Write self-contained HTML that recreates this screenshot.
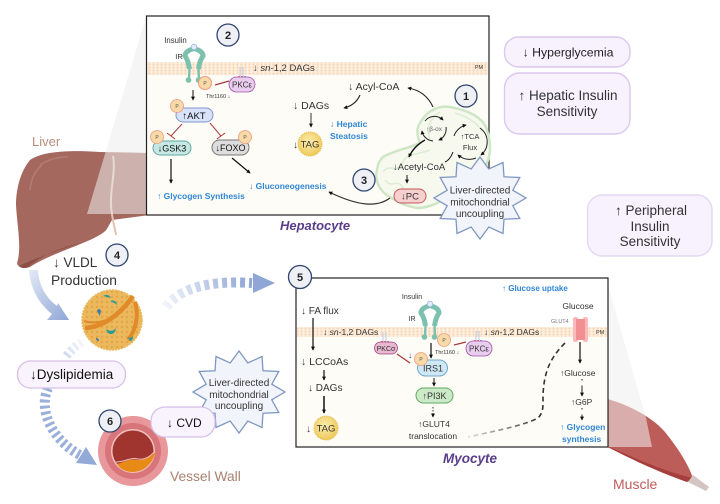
<!DOCTYPE html>
<html><head><meta charset="utf-8"><style>
html,body{margin:0;padding:0;background:#fff}
svg{display:block}
text{font-family:"Liberation Sans",sans-serif;fill:#333}
.b{fill:#2f86d6;font-weight:bold;font-size:8.5px}
.n{font-size:11px;fill:#222;text-anchor:middle;font-weight:bold}
.p{font-size:5px;fill:#555;text-anchor:middle}
</style></head><body>
<svg width="720" height="504" viewBox="0 0 720 504" xmlns="http://www.w3.org/2000/svg">
<defs>
<marker id="a" viewBox="0 0 6 6" refX="5" refY="3" markerWidth="4" markerHeight="4" orient="auto-start-reverse" markerUnits="userSpaceOnUse"><path d="M0 0L6 3L0 6Z" fill="#111"/></marker>
<linearGradient id="fadeB" x1="0" y1="0" x2="1" y2="1"><stop offset="0" stop-color="#e3e9f6"/><stop offset="1" stop-color="#8fa6d6"/></linearGradient>
<linearGradient id="fadeR" gradientUnits="userSpaceOnUse" x1="165" y1="307" x2="250" y2="283"><stop offset="0" stop-color="#f3f5fb"/><stop offset="1" stop-color="#8fa6d6"/></linearGradient>
<linearGradient id="fadeD" gradientUnits="userSpaceOnUse" x1="82" y1="342" x2="62" y2="360"><stop offset="0" stop-color="#f6f7fc"/><stop offset="1" stop-color="#c6d3ea"/></linearGradient>
<linearGradient id="fadeK" gradientUnits="userSpaceOnUse" x1="468" y1="437" x2="540" y2="415"><stop offset="0" stop-color="#ddd"/><stop offset="1" stop-color="#333"/></linearGradient>
<radialGradient id="tag" cx=".45" cy=".4" r=".65"><stop offset="0" stop-color="#fbeeb0"/><stop offset="1" stop-color="#eec652"/></radialGradient>
<pattern id="mem" width="4" height="3" patternUnits="userSpaceOnUse"><rect width="4" height="3" fill="#fdf0e2"/><circle cx="1.5" cy="1.5" r="1.1" fill="#f8d3ae"/></pattern>
<pattern id="dots" width="5" height="5" patternUnits="userSpaceOnUse"><rect width="5" height="5" fill="#ecb85c"/><circle cx="2" cy="2" r="1.2" fill="#e2a648"/></pattern>
<polygon id="star" points="46,0 32.8,7.8 39.8,20.5 24,21.2 23,35.5 8.8,29 0,41 -8.8,29 -23,35.5 -24,21.2 -39.8,20.5 -32.8,7.8 -46,0 -32.8,-7.8 -39.8,-20.5 -24,-21.2 -23,-35.5 -8.8,-29 0,-41 8.8,-29 23,-35.5 24,-21.2 39.8,-20.5 32.8,-7.8" fill="#f1f5fb" stroke="#7f97c0" stroke-width="1.3"/>
<g id="rec" fill="none" stroke="#7cc0ae">
<path d="M0 1.500Q-9 4 -9 9Q-5.500 14 -4.500 22" stroke-width="5"/><path d="M0 1.500Q9 4 9 9Q5.500 14 4.500 22" stroke-width="5"/>
<path d="M-4.500 22L-5 32M4.500 22L5 32" stroke-width="2.400"/>
<circle cx="-5.500" cy="33" r="2.800" fill="#7cc0ae" stroke="none"/><circle cx="4.500" cy="33" r="2.800" fill="#7cc0ae" stroke="none"/>
<circle cx="0" cy="0" r="2.800" fill="#e4ecfa" stroke="#9bb4dc" stroke-width=".8"/>
</g>
<g id="prong" fill="none" stroke="#b9cbe6" stroke-width="1"><path d="M-2 -9V0M1 -9V0"/><circle cx="-3" cy="1" r="1" fill="#d33" stroke="none"/><circle cx="0" cy="1" r="1" fill="#d33" stroke="none"/><circle cx="3" cy="1" r="1" fill="#28c" stroke="none"/></g>
</defs>

<!-- liver -->
<path d="M150 153L100 152C70 150 43 151 30 160C20 172 16 190 16 205C17 225 22 248 17 263C18 268 24 269 30 267C45 257 67 250 90 240C100 235 106 232 108 227L112 220L150 215Z" fill="#a5685f"/>
<path d="M19 266C35 258 55 252 80 243C60 248 42 255 28 267C24 269 21 268 19 266Z" fill="#8c4f48"/>
<path d="M40 165C50 158 60 157 68 157M30 190C31 178 36 170 42 165" fill="none" stroke="#b27d75" stroke-width="1.500"/>
<path d="M113 156C116 170 110 190 111 205C112 220 115 228 116 235" fill="none" stroke="#e2c3b0" stroke-width="2"/>
<!-- wedge liver -->
<polygon points="146,17 87,214 150,214" fill="#ececec" fill-opacity=".55"/>
<!-- muscle -->
<path d="M600 397C625 403 650 415 665 432C678 448 688 464 693 478L687 482C665 474 640 464 600 443Z" fill="#bd5d5a"/>
<path d="M600 443C640 460 665 472 693 478L687 482C665 474 640 464 600 443Z" fill="#a53f3e"/>
<path d="M693 475L709 487L706 491L688 482Z" fill="#d4c4c2"/>
<polygon points="608,285 646,418 652,447 605,447" fill="#efefef" fill-opacity=".55"/>

<text x="32" y="146" font-size="13" style="fill:#b98d7c">Liver</text>

<!-- hepatocyte box -->
<rect x="146.500" y="16" width="342.500" height="199" fill="#fff"/>
<rect x="147" y="62" width="342" height="153" fill="#fefcf6"/>
<rect x="147" y="62" width="341" height="13" fill="url(#mem)"/>
<rect x="146.500" y="16" width="342.500" height="199" fill="none" stroke="#222" stroke-width="1.200"/>
<text x="479" y="69" font-size="5.500" text-anchor="middle">PM</text>
<circle cx="228" cy="35" r="11" fill="#eef0f5" stroke="#2f4570" stroke-width="1.300"/><text x="228" y="39" class="n">2</text>
<text x="175.500" y="43" font-size="7.800" text-anchor="middle">Insulin</text>
<text x="179" y="59" font-size="7.500" text-anchor="middle">IR</text>
<use href="#rec" x="194" y="47"/>
<text x="253" y="71" font-size="9.500">↓ <tspan font-style="italic">sn</tspan>-1,2 DAGs</text>
<use href="#prong" x="242" y="76"/>
<rect x="229" y="77" width="26" height="15" rx="7.500" fill="#e9cdee" stroke="#a050a8" stroke-width=".8"/><text x="242" y="87.500" font-size="8" text-anchor="middle">PKCε</text>
<path d="M229 81L215 85" stroke="#a83a3f" stroke-width="1.200"/>
<circle cx="205" cy="83" r="6.500" fill="#f8d9a8" stroke="#ef9a80"/><text x="205" y="85" class="p">P</text>
<text x="206" y="98" font-size="5.500">Thr1160 ↓</text>
<path d="M193 90V100" stroke="#111" stroke-width="1" marker-end="url(#a)"/>
<rect x="176" y="108" width="37" height="14" rx="7" fill="#d8e2f8" stroke="#7f97d0"/><text x="194" y="119" font-size="9.500" text-anchor="middle" style="fill:#111">↑AKT</text>
<circle cx="177" cy="106" r="6.500" fill="#f8d9a8" stroke="#ef9a80" stroke-width=".8"/><text x="177" y="108" class="p">P</text>
<path d="M182 124L171 136M167 133L175 139M210 123L221 136M217 139L225 133" stroke="#a83a3f" stroke-width="1" fill="none"/>
<rect x="153" y="141" width="38" height="14" rx="7" fill="#c6e8e4" stroke="#5fa89f"/><text x="172" y="151.500" font-size="9" text-anchor="middle" style="fill:#111">↓GSK3</text>
<circle cx="157" cy="137" r="6.500" fill="#f8d9a8" stroke="#ef9a80" stroke-width=".8"/><text x="157" y="139" class="p">P</text>
<rect x="212" y="140" width="37" height="15" rx="7.500" fill="#ddd" stroke="#777"/><text x="230.500" y="151" font-size="9" text-anchor="middle" style="fill:#111">↓FOXO</text>
<circle cx="245" cy="137" r="6.500" fill="#f8d9a8" stroke="#ef9a80" stroke-width=".8"/><text x="245" y="139" class="p">P</text>
<path d="M171 159V183" stroke="#111" stroke-width="1.200" marker-end="url(#a)"/>
<path d="M232 158L250 173" stroke="#111" stroke-width="1.200" marker-end="url(#a)"/>
<text x="157" y="199" class="b">↑ Glycogen Synthesis</text>
<text x="249" y="189" class="b">↓ Gluconeogenesis</text>
<text x="293" y="109" font-size="10.500">↓  DAGs</text>
<path d="M311 113V127" stroke="#333" stroke-width="1" marker-end="url(#a)"/>
<text x="293" y="148" font-size="10">↓</text>
<circle cx="310" cy="144" r="12" fill="url(#tag)" stroke="#e0b848" stroke-dasharray="1 1"/><text x="310" y="147.500" font-size="9.500" text-anchor="middle">TAG</text>
<text x="330" y="127" class="b">↓ Hepatic</text><text x="330" y="139" class="b">Steatosis</text>
<text x="348" y="90" font-size="10.500">↓ Acyl-CoA</text>
<path d="M433 107C428 96 420 90 408 88" fill="none" stroke="#222" stroke-width="1.100" marker-end="url(#a)"/>
<path d="M360 95C357 102 352 106 344 108" fill="none" stroke="#222" stroke-width="1.100" marker-end="url(#a)"/>
<!-- mitochondrion -->
<path d="M450 107C468 110 484 118 487 130C492 145 490 155 487 163C480 185 460 200 443 200C432 206 425 208 417 208C405 206 397 202 390 197C380 192 374 180 377 170C378 163 380 160 383 157C395 150 410 148 420 143C416 133 417 128 420 123C424 116 428 112 433 110C438 107 444 106 450 107Z" fill="#f7f9ef" stroke="#cfe6c6" stroke-width="2.500"/>
<path d="M383 172C390 162 398 176 404 160C410 152 418 155 430 150M385 180C392 190 398 176 404 190M440 112C430 118 426 128 430 140M455 113C465 116 478 122 482 132" fill="none" stroke="#dcedd3" stroke-width="1.500"/>
<circle cx="466" cy="96" r="11" fill="#eef0f5" stroke="#2f4570" stroke-width="1.300"/><text x="466" y="100" class="n">1</text>
<g fill="none" stroke="#222" stroke-width="1" marker-end="url(#a)">
<path d="M425 121A12 12 0 0 1 443 120"/><path d="M446 127A12 12 0 0 1 439 140"/><path d="M433 141A12 12 0 0 1 422 131"/>
<path d="M454 136A17 17 0 0 1 466 125"/><path d="M480 128A17 17 0 0 1 481 155"/><path d="M476 158A17 17 0 0 1 458 155"/>
</g>
<text x="434" y="131" font-size="6.500" text-anchor="middle" style="fill:#666">↑β-ox</text>
<text x="470" y="139" font-size="7.500" text-anchor="middle">↑TCA</text><text x="470" y="150" font-size="7.500" text-anchor="middle">Flux</text>
<path d="M425 140C418 144 412 150 409 157" fill="none" stroke="#111" stroke-width="1.400" marker-end="url(#a)"/>
<path d="M453 152Q450 160 445 162" fill="none" stroke="#111" stroke-width="1"/>
<text x="393" y="170" font-size="9.500">↓Acetyl-CoA</text>
<path d="M407 175V183" stroke="#111" marker-end="url(#a)"/>
<rect x="394" y="189" width="32" height="14" rx="7" fill="#f6cfcf" stroke="#c05a5a"/><text x="410" y="199.500" font-size="9.500" text-anchor="middle">↓PC</text>
<circle cx="364" cy="180" r="11" fill="#eef0f5" stroke="#2f4570" stroke-width="1.300"/><text x="364" y="184" class="n">3</text>
<path d="M390 198C378 207 360 207 329 192" fill="none" stroke="#333" stroke-width="1.200" marker-end="url(#a)"/>
<use href="#star" x="480" y="198"/>
<text x="480" y="193.500" font-size="10" text-anchor="middle">Liver-directed</text>
<text x="480" y="205.500" font-size="10" text-anchor="middle">mitochondrial</text>
<text x="480" y="217" font-size="10" text-anchor="middle">uncoupling</text>
<text x="280" y="230" font-size="13" font-weight="bold" font-style="italic" style="fill:#5a3d8a">Hepatocyte</text>

<!-- right pills -->
<rect x="504.500" y="37" width="125.500" height="30" rx="14" fill="#f7f2fd" stroke="#dcc8ee" stroke-width="1.400"/>
<text x="568" y="56.500" font-size="12.300" text-anchor="middle" style="fill:#222">↓ Hyperglycemia</text>
<rect x="504.500" y="73" width="125.500" height="61" rx="15" fill="#f7f2fd" stroke="#dcc8ee" stroke-width="1.400"/>
<text x="568" y="100" font-size="13.500" text-anchor="middle">↑ Hepatic Insulin</text>
<text x="567" y="116" font-size="13.500" text-anchor="middle">Sensitivity</text>
<rect x="587.500" y="195" width="124.500" height="61" rx="15" fill="#f7f2fd" stroke="#e4d8f2" stroke-width="1.400"/>
<text x="651" y="215" font-size="13.500" text-anchor="middle">↑ Peripheral</text>
<text x="650" y="231" font-size="13.500" text-anchor="middle">Insulin</text>
<text x="650" y="246" font-size="13.500" text-anchor="middle">Sensitivity</text>

<!-- VLDL -->
<text x="53" y="267" font-size="13.500">↓ VLDL</text>
<text x="51" y="285" font-size="13.800">Production</text>
<circle cx="117" cy="255" r="11" fill="#eef0f5" stroke="#2f4570" stroke-width="1.300"/><text x="117" y="259" class="n">4</text>
<path d="M29 270L38 270C39 285 45 297 57 306L58 303L69 320L47 320L52 314C38 303 30 287 29 270Z" fill="url(#fadeB)"/>
<circle cx="112" cy="320" r="30" fill="url(#dots)" stroke="#eab85f" stroke-width="1.500" stroke-dasharray="2 1"/>
<path d="M85 328C105 327 122 312 133 296" fill="none" stroke="#e08a2a" stroke-width="4.500"/>
<path d="M135 302C139 315 136 330 128 340" fill="none" stroke="#e08a2a" stroke-width="4"/>
<path d="M84 321Q95 325 112 318" fill="none" stroke="#e08a2a" stroke-width="2"/>
<g fill="#2a9a98"><path d="M103 296q5 -3 8 2q-4 -1 -8 -2z"/><path d="M110 301q6 -2 7 4q-4 -3 -7 -4z"/><path d="M97 311q2 -4 4 0q-1 3 -1 5z" fill="#3a7aaa"/><path d="M106 329q6 4 10 -1q-1 7 -6 6q-3 -1 -4 -5z"/><path d="M128 337q3 2 5 -1q0 5 -3 5z"/><path d="M96 338q3 0 3 3q-3 0 -3 -3z" fill="#3a7aaa"/></g>
<!-- dashed arrows -->
<path d="M166 307C178 290 205 280 252 283" fill="none" stroke="url(#fadeR)" stroke-width="10" stroke-dasharray="5 4"/>
<polygon points="253,273 275,283 253,293" fill="#8fa6d6"/>
<path d="M82 342Q72 348 65 358" fill="none" stroke="url(#fadeD)" stroke-width="9" stroke-dasharray="3 3"/>
<path d="M48 388C38 410 52 440 80 455" fill="none" stroke="#9ab0da" stroke-width="10" stroke-dasharray="3 3"/>
<polygon points="86,447 97,465 76,463" fill="#93a9d6"/>
<rect x="17.500" y="361" width="108" height="27" rx="13" fill="#f8f3fc" stroke="#d8c0e8" stroke-width="1.300"/>
<text x="30" y="379" font-size="13.500" style="fill:#111">↓Dyslipidemia</text>
<!-- vessel -->
<circle cx="133" cy="451" r="35" fill="#e8979b"/><circle cx="133" cy="451" r="28" fill="#d8757b"/><circle cx="133" cy="451" r="22" fill="#f2c0bd"/>
<circle cx="133" cy="451" r="20.500" fill="#a0342e"/>
<path d="M117 464C125 462 130 458 138 460C145 460 150 458 155 452C153 464 143 472 133 472C126 472 120 469 117 464Z" fill="#e88a16"/>
<path d="M116 462C125 462 130 457 138 459C145 460 150 457 155 451" fill="none" stroke="#f2c0bd" stroke-width="1"/>
<circle cx="110" cy="421" r="11" fill="#eef0f5" stroke="#2f4570" stroke-width="1.300"/><text x="110" y="425" class="n">6</text>
<use href="#star" x="239" y="392"/>
<text x="239" y="386" font-size="10" text-anchor="middle">Liver-directed</text>
<text x="239" y="398" font-size="10" text-anchor="middle">mitochondrial</text>
<text x="239" y="409" font-size="10" text-anchor="middle">uncoupling</text>
<rect x="151" y="407" width="64" height="30" rx="14" fill="#f8f3fc" stroke="#d8c0e8" stroke-width="1.300"/>
<text x="167" y="427" font-size="12" style="fill:#111">↓ CVD</text>
<text x="170" y="481" font-size="13.800" style="fill:#a9806f">Vessel Wall</text>

<!-- myocyte box -->
<rect x="296" y="278" width="312" height="169" fill="#fff"/>
<rect x="297" y="327" width="310" height="119" fill="#fefcf6"/>
<rect x="297" y="327" width="310" height="10" fill="url(#mem)"/>
<rect x="296" y="278" width="312" height="169" fill="none" stroke="#222" stroke-width="1.200"/>
<circle cx="300" cy="277" r="11.500" fill="#eef0f5" stroke="#2f4570" stroke-width="1.300"/><text x="300" y="281" class="n">5</text>
<text x="301" y="314" font-size="10">↓ FA flux</text>
<path d="M313 318V350" stroke="#111" stroke-width="1.200" marker-end="url(#a)"/>
<text x="301" y="365" font-size="10.500">↓ LCCoAs</text>
<path d="M324 370V380" stroke="#111" stroke-width="1.200" marker-end="url(#a)"/>
<text x="308" y="391" font-size="10">↓ DAGs</text>
<path d="M324 396V413" stroke="#111" stroke-width="1.500" marker-end="url(#a)"/>
<text x="306" y="432" font-size="10">↓</text>
<circle cx="326" cy="428" r="12" fill="url(#tag)" stroke="#e0b848" stroke-dasharray="1 1"/><text x="326" y="431.500" font-size="9.500" text-anchor="middle">TAG</text>
<text x="323" y="335" font-size="8.500">↓ <tspan font-style="italic">sn</tspan>-1,2 DAGs</text>
<use href="#prong" x="385" y="341"/>
<rect x="374.500" y="342" width="23" height="12" rx="6" fill="#e8b8d0" stroke="#a04080" stroke-width=".8"/><text x="386" y="351" font-size="7" text-anchor="middle">PKCσ</text>
<path d="M397 354L410 363" stroke="#a83a3f" stroke-width="1.300"/>
<text x="408" y="358" font-size="8">↓</text>
<text x="412" y="299" font-size="7" text-anchor="middle">Insulin</text>
<text x="412" y="321" font-size="7" text-anchor="middle">IR</text>
<use href="#rec" x="430" y="304"/>
<path d="M431 343V358" stroke="#111" stroke-width="1.200" marker-end="url(#a)"/>
<rect x="417.500" y="360" width="30" height="16" rx="8" fill="#cfe8f6" stroke="#6fa8c8"/><text x="433" y="371.500" font-size="9" text-anchor="middle">IRS1</text>
<circle cx="421" cy="359" r="6.500" fill="#f8d9a8" stroke="#ef9a80" stroke-width=".8"/><text x="421" y="361" class="p">P</text>
<circle cx="444" cy="340" r="6.500" fill="#f8d9a8" stroke="#ef9a80" stroke-width=".8"/><text x="444" y="342" class="p">P</text>
<use href="#prong" x="478" y="340"/>
<rect x="466" y="341" width="26" height="15" rx="7.500" fill="#e9cdee" stroke="#a050a8" stroke-width=".8"/><text x="479" y="351.500" font-size="8" text-anchor="middle">PKCε</text>
<path d="M466 342L454 345" stroke="#a83a3f" stroke-width="1.200"/>
<text x="435" y="354" font-size="5.500">Thr1160 ↓</text>
<path d="M434 378V386" stroke="#111" marker-end="url(#a)"/>
<rect x="416" y="388" width="37" height="15" rx="7.500" fill="#cdeac8" stroke="#5fa85f"/><text x="434.500" y="399" font-size="9" text-anchor="middle">↑PI3K</text>
<path d="M433 407V417" stroke="#333" stroke-dasharray="1.500 1.500" marker-end="url(#a)"/>
<text x="434" y="427" font-size="8.500" text-anchor="middle">↑GLUT4</text>
<text x="433" y="439" font-size="8.500" text-anchor="middle">translocation</text>
<text x="484" y="335" font-size="8.500">↓ <tspan font-style="italic">sn</tspan>-1,2 DAGs</text>
<text x="502" y="291" class="b" style="font-size:8px">↑ Glucose uptake</text>
<text x="578" y="309" font-size="8.500" text-anchor="middle">Glucose</text>
<text x="551" y="323" font-size="5.500" style="fill:#777">GLUT4</text>
<text x="596" y="334" font-size="5.500">PM</text>
<rect x="573" y="317" width="5" height="25" rx="2" fill="#fbb9bc"/><rect x="583" y="317" width="5" height="25" rx="2" fill="#fbb9bc"/><rect x="576" y="319" width="9" height="21" fill="#f28f92"/>
<path d="M580 342V363" stroke="#111" stroke-width="1.200" marker-end="url(#a)"/>
<text x="560" y="376" font-size="8.500">↑Glucose</text>
<path d="M582 379V396" stroke="#222" stroke-dasharray="1.500 5 8" marker-end="url(#a)"/>
<text x="571" y="405" font-size="8.500">↑G6P</text>
<path d="M582 408V420" stroke="#222" stroke-dasharray="1.500 5 6" marker-end="url(#a)"/>
<text x="560" y="430" class="b">↑ Glycogen</text><text x="562" y="442" class="b">synthesis</text>
<path d="M565 343C548 360 544 375 543 395C543 405 544 412 538 418C525 425 500 430 468 437" fill="none" stroke="url(#fadeK)" stroke-width="1.600" stroke-dasharray="5 3.500"/>
<text x="443" y="463" font-size="13.500" font-weight="bold" font-style="italic" style="fill:#5a3d8a">Myocyte</text>
<text x="613" y="489" font-size="14" style="fill:#c25a5a">Muscle</text>
</svg>
</body></html>
